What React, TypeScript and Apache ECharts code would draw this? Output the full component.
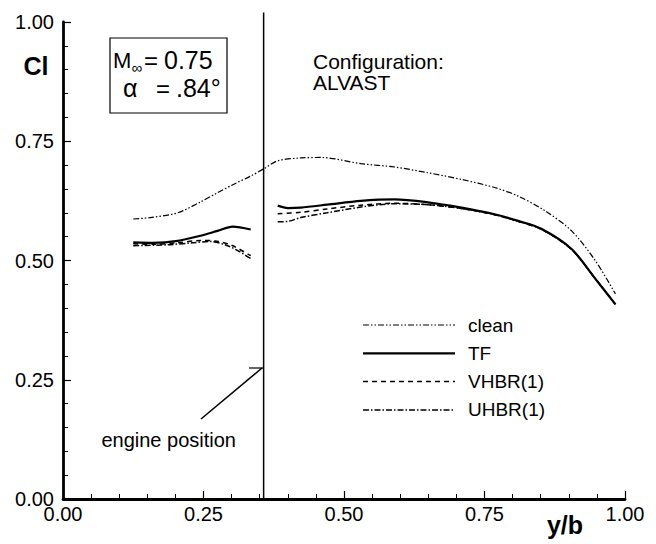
import React, { useEffect, useRef } from "react";
import * as echarts from "echarts";

const FONT = "'Liberation Sans', Arial, Helvetica, sans-serif";

const seriesNames = ["clean", "TF", "VHBR(1)", "UHBR(1)"];

// [y/b, Cl]
const cleanData: (number | null)[][] = [
  [0.125, 0.587], [0.155, 0.59], [0.204, 0.6], [0.245, 0.623], [0.275, 0.642],
  [0.304, 0.66], [0.334, 0.677], [0.357, 0.692], [0.382, 0.709], [0.423, 0.715],
  [0.46, 0.716], [0.53, 0.703], [0.59, 0.696], [0.649, 0.684], [0.709, 0.67],
  [0.768, 0.653], [0.81, 0.635], [0.858, 0.604], [0.905, 0.562], [0.947, 0.5],
  [0.983, 0.43],
];

const tfData: (number | null)[][] = [
  [0.125, 0.538], [0.16, 0.537], [0.204, 0.541], [0.245, 0.552], [0.275, 0.562],
  [0.302, 0.571], [0.334, 0.565],
  [0.35, null],
  [0.382, 0.615], [0.4, 0.61], [0.423, 0.611], [0.47, 0.617], [0.53, 0.625],
  [0.59, 0.628], [0.649, 0.622], [0.709, 0.611], [0.768, 0.597], [0.81, 0.583],
  [0.852, 0.566], [0.905, 0.524], [0.947, 0.462], [0.983, 0.408],
];

const vhbrData: (number | null)[][] = [
  [0.125, 0.535], [0.16, 0.534], [0.204, 0.537], [0.245, 0.542], [0.27, 0.541],
  [0.3, 0.532], [0.334, 0.51],
  [0.35, null],
  [0.382, 0.598], [0.423, 0.601], [0.47, 0.608], [0.53, 0.616], [0.59, 0.62],
  [0.649, 0.617], [0.709, 0.609], [0.768, 0.596], [0.81, 0.582],
  [0.852, 0.565], [0.905, 0.523], [0.947, 0.462], [0.983, 0.408],
];

const uhbrData: (number | null)[][] = [
  [0.125, 0.531], [0.186, 0.533], [0.23, 0.537], [0.262, 0.54], [0.293, 0.531],
  [0.315, 0.518], [0.334, 0.504],
  [0.35, null],
  [0.382, 0.581], [0.4, 0.582], [0.423, 0.59], [0.47, 0.6], [0.53, 0.612],
  [0.59, 0.619], [0.649, 0.617], [0.709, 0.609], [0.768, 0.596], [0.81, 0.582],
  [0.852, 0.565], [0.905, 0.523], [0.947, 0.462], [0.983, 0.408],
];

const enginePosition = 0.357;
const engineLine: number[][] = [[enginePosition, 0], [enginePosition, 1.02]];

const xTicks = [0, 0.25, 0.5, 0.75, 1];
const yTicks = [0, 0.25, 0.5, 0.75, 1];

const lineStyles: Record<string, { width: number; dash: number[] | null }> = {
  clean: { width: 1.2, dash: [6, 2, 1.5, 2, 1.5, 2] },
  TF: { width: 2.2, dash: null },
  "VHBR(1)": { width: 1.5, dash: [5, 4] },
  "UHBR(1)": { width: 1.5, dash: [6, 2, 1.5, 2] },
};

export default function App() {
  const ref = useRef<HTMLDivElement>(null);
  useEffect(() => {
    if (!ref.current) return;
    const chart = echarts.init(ref.current, undefined, { renderer: "svg" });
    const axisCommon = {
      min: 0,
      max: 1,
      interval: 0.25,
      axisLine: { show: true, lineStyle: { color: "#000", width: 2.8 } },
      axisTick: { show: true, inside: true, length: 8, lineStyle: { color: "#000", width: 1.2 } },
      minorTick: { show: true, splitNumber: 5, length: 5, lineStyle: { color: "#000", width: 1 } },
      splitLine: { show: false },
      axisLabel: {
        color: "#000",
        fontFamily: FONT,
        fontSize: 20,
        formatter: (v: number) => v.toFixed(2),
      },
    };
    const legendTop = 325;
    const legendGap = 28.3;
    const legendGraphics: any[] = [];
    seriesNames.forEach((name, i) => {
      const y = legendTop + i * legendGap;
      const ls = lineStyles[name];
      legendGraphics.push({
        type: "line",
        shape: { x1: 363, y1: y, x2: 455, y2: y },
        style: { stroke: "#000", lineWidth: ls.width, lineDash: ls.dash || undefined },
      });
      legendGraphics.push({
        type: "text",
        x: 468,
        y,
        style: { text: name, font: `19px ${FONT}`, fill: "#000", verticalAlign: "middle" },
      });
    });
    chart.setOption({
      animation: false,
      backgroundColor: "#fff",
      grid: { left: 63, right: 31, top: 22, bottom: 45, containLabel: false },
      xAxis: {
        type: "value",
        ...axisCommon,
        axisLabel: { ...axisCommon.axisLabel, margin: 5, customValues: xTicks },
      },
      yAxis: {
        type: "value",
        ...axisCommon,
        axisLabel: { ...axisCommon.axisLabel, margin: 9, customValues: yTicks },
      },
      series: [
        ...seriesNames.map((name, i) => ({
          name,
          type: "line",
          data: [cleanData, tfData, vhbrData, uhbrData][i],
          showSymbol: false,
          symbol: "none",
          smooth: 0.3,
          connectNulls: false,
          lineStyle: {
            color: "#000",
            width: lineStyles[name].width,
            type: lineStyles[name].dash || "solid",
          },
        })),
        {
          name: "engine",
          type: "line",
          data: engineLine,
          showSymbol: false,
          symbol: "none",
          silent: true,
          clip: false,
          lineStyle: { color: "#000", width: 1.5 },
        },
      ],
      graphic: [
        {
          type: "rect",
          shape: { x: 110, y: 38, width: 117, height: 75 },
          style: { fill: "#fff", stroke: "#000", lineWidth: 1.2 },
        },
        { type: "text", x: 113, y: 60, style: { text: "M", font: `22px ${FONT}`, fill: "#000", verticalAlign: "middle" } },
        { type: "text", x: 131.5, y: 67, style: { text: "∞", font: `15px ${FONT}`, fill: "#000", verticalAlign: "middle" } },
        { type: "text", x: 144, y: 60, style: { text: "=", font: `24px ${FONT}`, fill: "#000", verticalAlign: "middle" } },
        { type: "text", x: 164, y: 60, style: { text: "0.75", font: `25px ${FONT}`, fill: "#000", verticalAlign: "middle" } },
        { type: "text", x: 123, y: 88, style: { text: "α", font: `25px ${FONT}`, fill: "#000", verticalAlign: "middle" } },
        { type: "text", x: 156, y: 88, style: { text: "=", font: `24px ${FONT}`, fill: "#000", verticalAlign: "middle" } },
        { type: "text", x: 176, y: 88, style: { text: ".84°", font: `25px ${FONT}`, fill: "#000", verticalAlign: "middle" } },
        {
          type: "text",
          x: 36,
          y: 66,
          style: { text: "Cl", font: `bold 25px ${FONT}`, fill: "#000", align: "center", verticalAlign: "middle" },
        },
        {
          type: "text",
          x: 313,
          y: 51,
          style: { text: "Configuration:\nALVAST", font: `21px ${FONT}`, fill: "#000", lineHeight: 21 },
        },
        {
          type: "text",
          x: 565,
          y: 525,
          style: { text: "y/b", font: `bold 25px ${FONT}`, fill: "#000", align: "center", verticalAlign: "middle" },
        },
        {
          type: "text",
          x: 236,
          y: 440,
          style: { text: "engine position", font: `20px ${FONT}`, fill: "#000", align: "right", verticalAlign: "middle" },
        },
        {
          type: "line",
          shape: { x1: 201, y1: 419, x2: 262, y2: 368 },
          style: { stroke: "#000", lineWidth: 1.6 },
        },
        {
          type: "line",
          shape: { x1: 249, y1: 368, x2: 263, y2: 368 },
          style: { stroke: "#000", lineWidth: 1.2 },
        },
        ...legendGraphics,
      ],
    });
    return () => chart.dispose();
  }, []);
  return (
    <div
      ref={ref}
      style={{ position: "absolute", left: 0, top: 0, width: 656, height: 544 }}
    />
  );
}
